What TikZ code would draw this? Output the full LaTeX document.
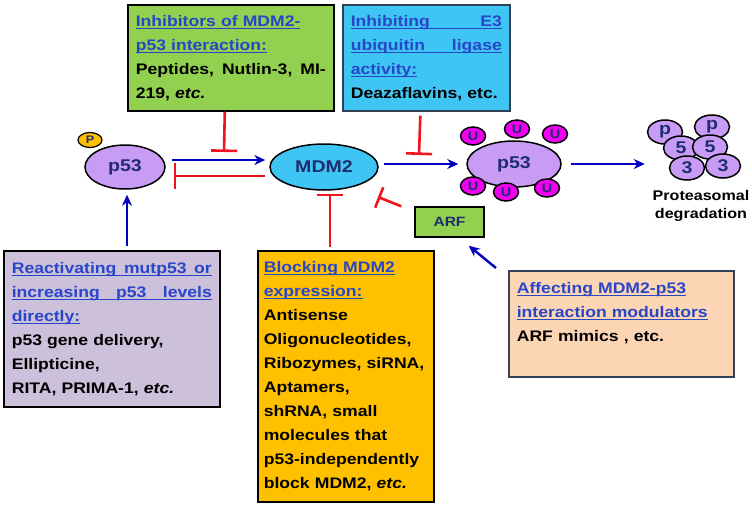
\documentclass[tikz,border=0pt]{standalone}
\usepackage{fontspec}
\setmainfont{Liberation Sans}[FakeStretch=1.15]
\usetikzlibrary{shapes.geometric,arrows.meta,positioning}

\definecolor{boxgreen}{RGB}{146,208,80}
\definecolor{boxsky}{RGB}{62,197,244}
\definecolor{boxlilac}{RGB}{204,192,218}
\definecolor{boxamber}{RGB}{255,192,0}
\definecolor{boxpeach}{RGB}{252,213,181}
\definecolor{protlilac}{RGB}{200,155,245}
\definecolor{ubmagenta}{RGB}{240,0,240}
\definecolor{headblue}{RGB}{40,70,200}
\definecolor{molnavy}{RGB}{31,45,110}
\definecolor{actblue}{RGB}{0,0,190}
\definecolor{inhred}{RGB}{240,20,30}
\definecolor{slate}{RGB}{50,65,85}

\newsavebox{\ulbox}
\newcommand{\ulink}[1]{\leavevmode\sbox{\ulbox}{\color{headblue}#1}{\color{headblue}\rlap{\rule[-2.4pt]{\wd\ulbox}{1pt}}}\usebox{\ulbox}}
\newcommand{\full}[1]{\leavevmode\hbox to \linewidth{#1}}

\begin{document}
\begin{tikzpicture}[x=1pt,y=-1pt,
    box/.style={draw, line width=1.6pt, rectangle, anchor=north west, inner xsep=8pt, inner ysep=0pt,
      align=left, font=\fontsize{15.3}{24}\selectfont\bfseries},
    mol/.style={ellipse, draw, line width=1.5pt, inner sep=0pt, text=molnavy,
      font=\fontsize{17}{17}\selectfont\bfseries},
    ubq/.style={mol, fill=ubmagenta, minimum width=25pt, minimum height=18pt,
      font=\fontsize{12.5}{12.5}\selectfont\bfseries},
    subunit/.style={mol, fill=protlilac, minimum width=35pt, minimum height=24pt},
    act/.style={-{Stealth[length=11pt,width=10pt]}, actblue, line width=2.4pt},
    inh/.style={-{Bar[width=26pt]}, inhred, line width=2.6pt}]
  \path[use as bounding box, fill=white] (0,0) rectangle (752,506);

  % boxes
  \node[box, fill=boxgreen, minimum width=206pt, minimum height=106pt, text width=190pt] (green) at (127,4)
    {\ulink{Inhibitors of MDM2-}\\ \ulink{p53 interaction:}\\ \full{Peptides,\hfill Nutlin-3,\hfill MI-}\\ 219, \textit{etc.}};
  \node[box, draw=slate, fill=boxsky, minimum width=167pt, minimum height=106pt, text width=151pt] (sky) at (342,4)
    {\ulink{\full{Inhibiting\hfill E3}}\\ \ulink{\full{ubiquitin\hfill ligase}}\\ \ulink{activity:}\\ Deazaflavins, etc.};
  \node[box, fill=boxlilac, minimum width=216pt, minimum height=156pt, text width=200pt] (lilac) at (3,250)
    {\ulink{\full{Reactivating\hfill mutp53\hfill or}}\\ \ulink{\full{increasing\hfill p53\hfill levels}}\\ \ulink{directly:}\\
     p53 gene delivery,\\ Ellipticine,\\ RITA, PRIMA-1, \textit{etc.}};
  \node[box, fill=boxamber, inner xsep=6pt, minimum width=176pt, minimum height=251pt, text width=164pt] (block) at (257,250)
    {\ulink{Blocking MDM2}\\ \ulink{expression:}\\ Antisense\\ Oligonucleotides,\\ Ribozymes, siRNA,\\
     Aptamers,\\ shRNA, small\\ molecules that\\ p53-independently\\ block MDM2, \textit{etc.}};
  \node[box, draw=slate, fill=boxpeach, minimum width=225pt, minimum height=106pt, text width=209pt] (affect) at (508,270)
    {\ulink{Affecting MDM2-p53}\\ \ulink{interaction modulators}\\ ARF mimics , etc.\\ \mbox{}};
  \node[draw, line width=1.5pt, fill=boxgreen, minimum width=69pt, minimum height=30pt, text=molnavy,
    font=\fontsize{13.5}{13.5}\selectfont\bfseries] (ARF) at (449.5,222) {ARF};

  % molecules
  \node[mol, fill=protlilac, minimum width=80pt, minimum height=44pt] (p53) at (125,167) {p53};
  \node[mol, fill=boxamber, minimum width=24pt, minimum height=15pt, line width=1.2pt,
    font=\fontsize{11}{11}\selectfont\bfseries] (phos) at (90,140) {P};
  \node[mol, fill=boxsky, minimum width=108pt, minimum height=46pt] (MDM2) at (324,167) {MDM2};
  \node[mol, fill=protlilac, minimum width=94pt, minimum height=46pt] (Ub) at (514,164) {p53};
  \node[ubq] (u1) at (473,136) {U};
  \node[ubq] (u2) at (517,129) {U};
  \node[ubq] (u3) at (555,134) {U};
  \node[ubq] (u4) at (473,186) {U};
  \node[ubq] (u5) at (506,192) {U};
  \node[ubq] (u6) at (547,188) {U};

  % proteasome
  \node[subunit] (p1) at (665,132) {p};
  \node[subunit] (p2) at (712,127) {p};
  \node[subunit] (f1) at (681,148) {5};
  \node[subunit] (f2) at (710,147) {5};
  \node[subunit] (t1) at (687,168) {3};
  \node[subunit] (t2) at (723,166) {3};
  \node[align=center, font=\fontsize{14}{18}\selectfont\bfseries] (degr) at (701,206) {Proteasomal\\degradation};

  \coordinate (gbar) at (224,152);
  \coordinate (bbar) at (419,155);
  \coordinate (abar) at (378,197);

  \draw[act] ([shift={(6,-7)}]p53.east) -- ([shift={(-4,-7)}]MDM2.west);
  \draw[inh] ([shift={(-4,9)}]MDM2.west) -- ([shift={(8,9)}]p53.east);
  \draw[inh] ([xshift=-6pt]green.south) -- (gbar);
  \draw[inh] ([shift={(-6,4)}]sky.south) -- (bbar);
  \draw[act] ([xshift=5pt]MDM2.east |- Ub.west) -- ([xshift=-8pt]Ub.west);
  \draw[act] ([xshift=9pt]Ub.east) -- ([xshift=-2pt]p1.west |- Ub.east);
  \draw[inh] ([xshift=6pt,yshift=3pt]MDM2.south |- block.north) -- ([shift={(6,3)}]MDM2.south);
  \draw[inh, -{Bar[width=22pt]}] ([xshift=-13pt]ARF.north west) -- (abar);
  \draw[act] ([xshift=2pt,yshift=4pt]p53.south |- lilac.north) -- ([shift={(2,5)}]p53.south);
  \draw[act] ([shift={(-12,-2)}]affect.north west) -- ([shift={(-16,8)}]ARF.south east);
\end{tikzpicture}
\end{document}
